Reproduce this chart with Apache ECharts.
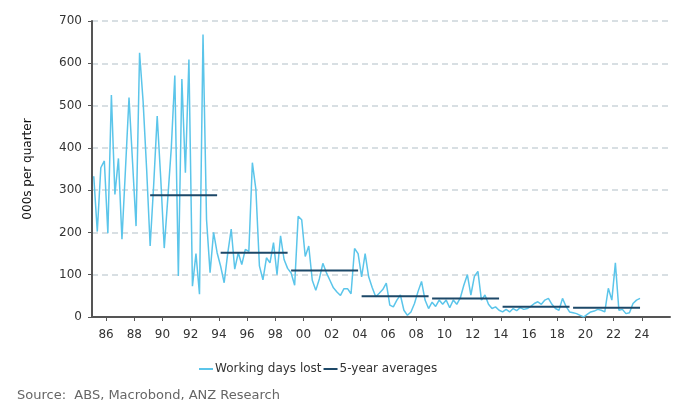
<!DOCTYPE html>
<html>
<head>
<meta charset="utf-8">
<script src="https://cdn.jsdelivr.net/npm/echarts@6/dist/echarts.min.js"></script>
<style>
  html, body { margin: 0; padding: 0; background: #fff; }
  #chart { width: 681px; height: 405px; }
</style>
</head>
<body>
<div id="chart"></div>
<script>
// 数据：季度工作日损失（千日），1985Q1 起
var startYear = 1985
var daysLost = [
    333, 202, 353, 369,  198, 525, 290, 375,  184, 350, 519, 367,  215, 625, 510, 350,
    168, 312, 475, 328,  163, 280, 400, 571,  97, 563, 341, 609,   73, 150, 54, 668,
    230, 105, 200, 152,  120, 81, 150, 208,   113, 152, 124, 160,  155, 365, 302, 121,
    88, 140, 128, 176,   100, 192, 136, 115,  104, 75, 238, 230,   143, 168, 87, 63,
    90, 127, 105, 87,    69, 59, 51, 67,     67, 55, 162, 150,    95, 150, 95, 70,
    48, 56, 65, 80,      28, 24, 40, 52,     16, 4, 12, 32,       60, 84, 40, 20,
    35, 25, 40, 30,      40, 22, 40, 30,     45, 75, 100, 52,     96, 108, 40, 52,
    30, 20, 24, 16,      12, 18, 12, 20,     15, 22, 18, 20,      25, 32, 36, 30,
    40, 44, 30, 20,      16, 44, 25, 12,     10, 8, 4, 0,         6, 12, 14, 18,
    16, 12, 68, 40,      128, 16, 18, 8,     10, 32, 40, 44
]
// 5年平均
var avgStart = [1989, 1994, 1999, 2004, 2009, 2014, 2019]
var avgValues = [288, 152, 110, 49, 44, 24, 22]
// 横轴刻度
var tickYears = [1986, 1988, 1990, 1992, 1994, 1996, 1998, 2000, 2002, 2004,
    2006, 2008, 2010, 2012, 2014, 2016, 2018, 2020, 2022, 2024]

var font = 'DejaVu Sans'
var lineData = []
for (var i = 0; i < daysLost.length; i++) {
    // 季度中点
    lineData.push([startYear + i / 4 + 0.125, daysLost[i]])
}
var avgData = []
for (var j = 0; j < avgStart.length; j++) {
    avgData.push([avgStart[j] + 0.125, avgValues[j]])
    avgData.push([avgStart[j] + 4.875, avgValues[j]])
    avgData.push([avgStart[j] + 4.9, null])
}

var myChart = echarts.init(document.getElementById('chart'))
var option = {
    animation: false,
    textStyle: { fontFamily: font },
    grid: { left: 92, right: 11, top: 21, bottom: 88 },
    legend: {
        left: 194,
        top: 358,
        itemWidth: 14,
        itemHeight: 2,
        itemGap: 2,
        icon: 'rect',
        textStyle: { fontFamily: font, fontSize: 12, color: '#333', padding: [0, 0, 0, -3] },
        data: ['Working days lost', '5-year averages']
    },
    graphic: [{
        type: 'text',
        left: 17,
        top: 389,
        style: { text: 'Source:  ABS, Macrobond, ANZ Research', font: '13px "DejaVu Sans"', fill: '#666' }
    }],
    xAxis: {
        type: 'value',
        min: 1985,
        max: 2026,
        axisLine: { lineStyle: { color: '#555', width: 2 } },
        axisTick: { show: true, length: 4, customValues: tickYears, lineStyle: { color: '#555' } },
        axisLabel: {
            customValues: tickYears,
            margin: 12,
            fontSize: 12,
            color: '#333',
            formatter: function(v) { return String(Math.round(v) % 100).padStart(2, '0') }
        },
        splitLine: { show: false }
    },
    yAxis: {
        type: 'value',
        min: 0,
        max: 700,
        interval: 100,
        name: '000s per quarter',
        nameLocation: 'middle',
        nameGap: 58,
        nameTextStyle: { fontFamily: font, fontSize: 12, color: '#111' },
        axisLine: { show: true, lineStyle: { color: '#555', width: 2 } },
        axisTick: { show: true, length: 4, lineStyle: { color: '#555' } },
        axisLabel: { fontSize: 12, color: '#333', margin: 10 },
        splitLine: { lineStyle: { color: '#d8dfe3', width: 2, type: [6, 4] } }
    },
    series: [
        {
            name: 'Working days lost',
            type: 'line',
            data: lineData,
            showSymbol: false,
            symbol: 'none',
            color: '#5bc5ea',
            lineStyle: { width: 1.5, color: '#5bc5ea' }
        },
        {
            name: '5-year averages',
            type: 'line',
            data: avgData,
            showSymbol: false,
            symbol: 'none',
            connectNulls: false,
            color: '#1d4868',
            lineStyle: { width: 2, color: '#1d4868' }
        }
    ]
}
myChart.setOption(option)
</script>
</body>
</html>
